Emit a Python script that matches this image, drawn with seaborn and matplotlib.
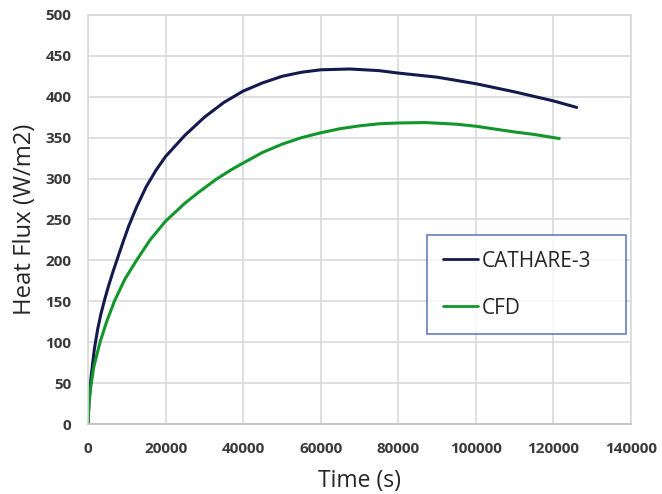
import numpy as np
import pandas as pd
import matplotlib
matplotlib.use("Agg")
import matplotlib.pyplot as plt
import seaborn as sns

# CATHARE-3 series (time in s, heat flux W/m2)
cathare_t = [0, 300, 800, 1650, 2500, 3300, 4400, 5500, 6500, 7500, 9000, 10500,
             12500, 15000, 17500, 20000, 25000, 30000, 35000, 40000, 45000, 50000,
             55000, 60000, 67500, 75000, 80000, 90000, 100000, 110000, 120000, 126000]
cathare_q = [0, 30, 58, 92, 116, 134, 154, 172, 187, 201, 222, 242,
             265, 290, 310, 327, 353, 375, 393, 407, 417, 425,
             430, 433, 434, 432, 429, 424, 416, 406, 395, 387]

# CFD series
cfd_t = [0, 200, 700, 1500, 3100, 4800, 6800, 9500, 12500, 16000, 20000, 25000,
         29000, 33000, 37000, 40000, 45000, 50000, 55000, 60000, 65000, 70000,
         75000, 80000, 87000, 95000, 100000, 110000, 115000, 121500]
cfd_q = [0, 22, 45, 70, 100, 125, 150, 177, 200, 225, 248, 270,
         285, 299, 311, 319, 332, 342, 350, 356, 361, 364.5,
         367, 368, 368.5, 366.5, 364, 357, 354, 349]

series_names = ["CATHARE-3", "CFD"]
x_ticks = [0, 20000, 40000, 60000, 80000, 100000, 120000, 140000]
y_ticks = [0, 50, 100, 150, 200, 250, 300, 350, 400, 450, 500]

df = pd.concat([
    pd.DataFrame({"t": cathare_t, "q": cathare_q, "s": series_names[0]}),
    pd.DataFrame({"t": cfd_t, "q": cfd_q, "s": series_names[1]}),
])

sns.set_style("white")
plt.rcParams["font.family"] = ["Open Sans", "DejaVu Sans"]

fig = plt.figure(figsize=(6.62, 4.94), dpi=100)
ax = fig.add_axes([88 / 662, 1 - 424 / 494, (631 - 88) / 662, (424 - 15) / 494])

palette = {"CATHARE-3": "#141a4e", "CFD": "#12962c"}
sns.lineplot(data=df, x="t", y="q", hue="s", palette=palette, ax=ax,
             linewidth=2.2, sort=False, estimator=None)

ax.set_xlim(0, 140000)
ax.set_ylim(0, 500)
ax.set_xticks(x_ticks)
ax.set_yticks(y_ticks)
ax.set_xticklabels([str(v) for v in x_ticks], fontsize=11, fontweight="bold", color="#3a3a3a")
ax.set_yticklabels([str(v) for v in y_ticks], fontsize=11, fontweight="bold", color="#3a3a3a")
ax.tick_params(axis="x", length=0, pad=13)
ax.tick_params(axis="y", length=0, pad=12)
ax.grid(True, color="#d9d9d9", linewidth=1.2)
ax.set_axisbelow(True)
for sp in ax.spines.values():
    sp.set_color("#d9d9d9")
    sp.set_linewidth(1.2)
ax.spines["bottom"].set_color("#bfbfbf")

ax.set_xlabel("Time (s)", fontsize=16.5, color="#262626", labelpad=9)
ax.set_ylabel("Heat Flux (W/m2)", fontsize=17.2, color="#262626", labelpad=6)

handles, labels = ax.get_legend_handles_labels()
leg_x0 = (427 - 88) / 543
leg_w = (626 - 427) / 543
leg_top = 1 - (235 - 15) / 409
leg = ax.legend(handles, labels, loc="upper left", mode="expand",
                bbox_to_anchor=(leg_x0, leg_top - 0.3, leg_w, 0.3),
                frameon=True, fancybox=False, fontsize=15, handlelength=1.7,
                handletextpad=0.2, labelspacing=1.25, borderpad=0.75,
                borderaxespad=0)
leg.get_frame().set_edgecolor("#3c5fb8")
leg.get_frame().set_linewidth(1.2)
for t in leg.get_texts():
    t.set_color("#262626")
for l in leg.get_lines():
    l.set_linewidth(2.0)

fig.savefig("out.png", dpi=100, facecolor="white")
